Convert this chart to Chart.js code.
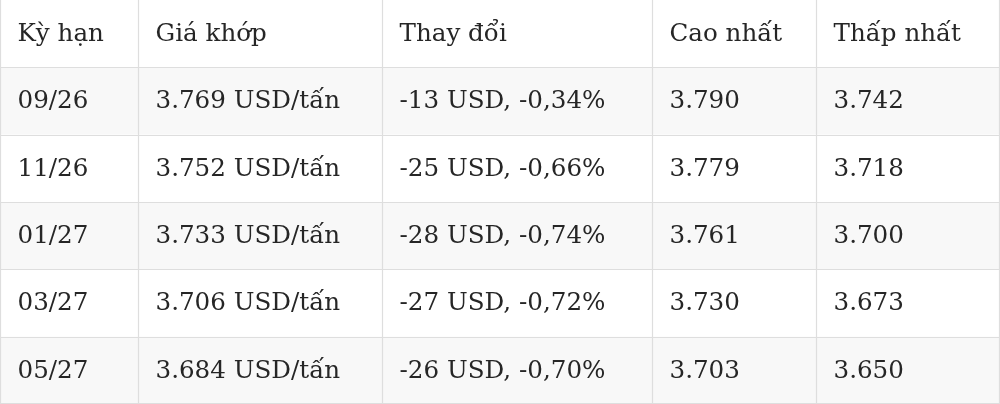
<!DOCTYPE html>
<html lang="vi">
<head>
<meta charset="utf-8">
<script src="https://cdn.jsdelivr.net/npm/chart.js@4"></script>
<style>
  html, body { margin: 0; padding: 0; background: #fff; }
  #wrap { width: 1000px; height: 404px; }
</style>
</head>
<body>
<div id="wrap"><canvas id="bang"></canvas></div>
<script>
// du lieu bang gia ca phe
const headers = ['Kỳ hạn', 'Giá khớp', 'Thay đổi', 'Cao nhất', 'Thấp nhất'];
const kyHan = ['09/26', '11/26', '01/27', '03/27', '05/27'];
const giaKhop = ['3.769 USD/tấn', '3.752 USD/tấn', '3.733 USD/tấn', '3.706 USD/tấn', '3.684 USD/tấn'];
const thayDoi = ['-13 USD, -0,34%', '-25 USD, -0,66%', '-28 USD, -0,74%', '-27 USD, -0,72%', '-26 USD, -0,70%'];
const caoNhat = ['3.790', '3.779', '3.761', '3.730', '3.703'];
const thapNhat = ['3.742', '3.718', '3.700', '3.673', '3.650'];

// bo cuc cot (pixel tren truc x 0..1000)
const colEdges = [0, 138, 382, 652, 816, 1000];

const rowLabels = ['header'].concat(kyHan);
const columns = [kyHan, giaKhop, thayDoi, caoNhat, thapNhat];

const tablePlugin = {
    id: 'tablePlugin',
    beforeDatasetsDraw(chart) {
        const ctx = chart.ctx;
        const x = chart.scales.x;
        const y = chart.scales.y;
        const h = y.height / rowLabels.length;
        const left = x.getPixelForValue(colEdges[0]);
        const right = x.getPixelForValue(colEdges[colEdges.length - 1]);

        ctx.save();
        // nen xen ke
        rowLabels.forEach(function (r, i) {
            const cy = y.getPixelForValue(i);
            ctx.fillStyle = (i % 2 === 1) ? '#f8f8f8' : '#ffffff';
            ctx.fillRect(left, cy - h / 2, right - left, h);
        });

        // duong ke
        ctx.strokeStyle = '#dedede';
        ctx.lineWidth = 1.2;
        ctx.beginPath();
        for (let i = 1; i <= rowLabels.length; i++) {
            let yy = Math.round(y.top + i * h) + 0.5;
            if (i === rowLabels.length) yy = Math.round(y.bottom) - 0.5;
            ctx.moveTo(left, yy);
            ctx.lineTo(right, yy);
        }
        colEdges.forEach(function (e, j) {
            let xx = Math.round(x.getPixelForValue(e)) + 0.5;
            if (j === colEdges.length - 1) xx -= 1;
            ctx.moveTo(xx, y.top);
            ctx.lineTo(xx, y.bottom);
        });
        ctx.stroke();

        // chu
        ctx.fillStyle = '#262626';
        ctx.font = '24.6px "DejaVu Serif", "Liberation Serif", serif';
        ctx.textBaseline = 'middle';
        ctx.textAlign = 'left';
        headers.forEach(function (t, j) {
            ctx.fillText(t, x.getPixelForValue(colEdges[j]) + 17.5, y.getPixelForValue(0) + 1);
        });
        columns.forEach(function (col, j) {
            col.forEach(function (t, i) {
                ctx.fillText(t, x.getPixelForValue(colEdges[j]) + 17.5, y.getPixelForValue(i + 1) + 1);
            });
        });
        ctx.restore();
    }
};

new Chart(document.getElementById('bang'), {
    type: 'scatter',
    data: {
        labels: rowLabels,
        datasets: []
    },
    options: {
        responsive: true,
        maintainAspectRatio: false,
        animation: false,
        devicePixelRatio: 1,
        layout: { padding: 0 },
        plugins: {
            legend: { display: false },
            tooltip: { enabled: false }
        },
        scales: {
            x: { type: 'linear', min: colEdges[0], max: colEdges[colEdges.length - 1], display: false },
            y: { type: 'category', labels: rowLabels, offset: true, display: false }
        }
    },
    plugins: [tablePlugin]
});
</script>
</body>
</html>
